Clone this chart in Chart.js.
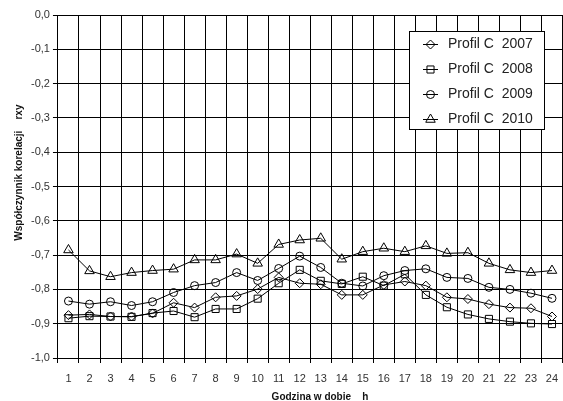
<!DOCTYPE html>
<html>
<head>
<meta charset="utf-8">
<script src="https://cdn.jsdelivr.net/npm/chart.js@4.4.1/dist/chart.umd.min.js"></script>
<style>
    html, body { margin: 0; padding: 0; background: #fff; overflow: hidden; }
    .chart-box { position: relative; width: 569px; height: 401px; }
</style>
</head>
<body>
<div class="chart-box"><canvas id="rxyChart"></canvas></div>
<script>
// hours of the day
const hours = ['1', '2', '3', '4', '5', '6', '7', '8', '9', '10', '11', '12',
               '13', '14', '15', '16', '17', '18', '19', '20', '21', '22', '23', '24'];

// correlation coefficient rxy per year
const profil2007 = [-0.875, -0.873, -0.879, -0.879, -0.870, -0.839, -0.853, -0.823, -0.819, -0.799, -0.765, -0.782,
                    -0.785, -0.816, -0.816, -0.787, -0.777, -0.789, -0.823, -0.828, -0.843, -0.853, -0.855, -0.879];
const profil2008 = [-0.884, -0.878, -0.879, -0.880, -0.869, -0.863, -0.881, -0.857, -0.857, -0.827, -0.782, -0.743,
                    -0.775, -0.784, -0.763, -0.789, -0.756, -0.816, -0.852, -0.873, -0.886, -0.894, -0.899, -0.901];
const profil2009 = [-0.834, -0.843, -0.836, -0.847, -0.836, -0.809, -0.789, -0.780, -0.751, -0.774, -0.739, -0.703,
                    -0.736, -0.782, -0.790, -0.760, -0.745, -0.740, -0.765, -0.768, -0.794, -0.800, -0.811, -0.826];
const profil2010 = [-0.685, -0.746, -0.763, -0.751, -0.745, -0.741, -0.714, -0.714, -0.697, -0.724, -0.669, -0.656,
                    -0.651, -0.712, -0.690, -0.680, -0.690, -0.673, -0.695, -0.693, -0.724, -0.743, -0.751, -0.745];

const seriesNames = ['Profil C  2007', 'Profil C  2008', 'Profil C  2009', 'Profil C  2010'];

// y tick labels, from 0,0 down to -1,0
const yTickLabels = ['0,0', '-0,1', '-0,2', '-0,3', '-0,4', '-0,5', '-0,6', '-0,7', '-0,8', '-0,9', '-1,0'];

const ink = '#000';
const hollow = 'rgba(0,0,0,0)';
const fontFamily = '"Liberation Sans", Arial, sans-serif';

function makeSeries(label, data, style, radius) {
    return {
        label: label,
        data: data,
        borderColor: ink,
        borderWidth: 1,
        backgroundColor: hollow,
        pointStyle: style,
        pointRadius: radius,
        pointBorderColor: ink,
        pointBackgroundColor: hollow,
        pointBorderWidth: 1,
        tension: 0
    };
}

// legend box in the upper right, line through marker like the original
const boxLegend = {
    id: 'boxLegend',
    afterDatasetsDraw(chart) {
        const { ctx, chartArea } = chart;
        const x0 = Math.round(chartArea.right - 154);
        const y0 = Math.round(chartArea.top + 16);
        const w = 135, h = 98;
        ctx.save();
        ctx.fillStyle = '#fff';
        ctx.fillRect(x0, y0, w, h);
        ctx.strokeStyle = ink;
        ctx.lineWidth = 1;
        ctx.strokeRect(x0 + 0.5, y0 + 0.5, w, h);

        ctx.font = '14px ' + fontFamily;
        ctx.textBaseline = 'middle';
        chart.data.datasets.forEach((ds, i) => {
            const y = Math.round(y0 + 13 + i * 25) + 0.5;
            ctx.strokeStyle = ink;
            ctx.beginPath();
            ctx.moveTo(x0 + 14, y);
            ctx.lineTo(x0 + 29, y);
            ctx.stroke();
            ctx.fillStyle = hollow;
            Chart.helpers.drawPoint(ctx, {
                pointStyle: ds.pointStyle,
                radius: ds.pointRadius,
                rotation: 0,
                borderWidth: 1
            }, x0 + 21.5, y);
            ctx.fillStyle = '#222';
            ctx.fillText(ds.label, x0 + 39, y);
        });
        ctx.restore();
    }
};

const ctx = document.getElementById('rxyChart').getContext('2d');
new Chart(ctx, {
    type: 'line',
    data: {
        labels: hours,
        datasets: [
            makeSeries(seriesNames[0], profil2007, 'rectRot', 4.5),
            makeSeries(seriesNames[1], profil2008, 'rect', 5),
            makeSeries(seriesNames[2], profil2009, 'circle', 4),
            makeSeries(seriesNames[3], profil2010, 'triangle', 5.5)
        ]
    },
    options: {
        responsive: true,
        maintainAspectRatio: false,
        animation: false,
        layout: { padding: { top: 15, left: 13, right: 0, bottom: 0 } },
        plugins: {
            legend: { display: false },
            tooltip: { enabled: false }
        },
        scales: {
            x: {
                offset: true,
                grid: { offset: true, color: ink, lineWidth: 1, tickLength: 5, tickColor: ink },
                border: { color: ink, width: 1 },
                ticks: {
                    color: '#333',
                    padding: 10,
                    maxRotation: 0,
                    autoSkip: false,
                    font: { family: fontFamily, size: 11, lineHeight: 1 }
                },
                title: {
                    display: true,
                    text: '       Godzina w dobie    h',
                    color: '#111',
                    padding: { top: 0, bottom: 0 },
                    font: { family: fontFamily, size: 10, weight: 'bold', lineHeight: 0.7 }
                }
            },
            y: {
                min: -1,
                max: 0,
                grid: { color: ink, lineWidth: 1, tickLength: 5, tickColor: ink },
                border: { color: ink, width: 1 },
                ticks: {
                    stepSize: 0.1,
                    color: '#333',
                    padding: 3,
                    font: { family: fontFamily, size: 11 },
                    callback: (value) => yTickLabels[Math.round(-value * 10)]
                },
                title: {
                    display: true,
                    text: '          Współczynnik korelacji    rxy',
                    color: '#111',
                    padding: { top: 0, bottom: 3 },
                    font: { family: fontFamily, size: 10, weight: 'bold' }
                }
            }
        }
    },
    plugins: [boxLegend]
});
</script>
</body>
</html>
